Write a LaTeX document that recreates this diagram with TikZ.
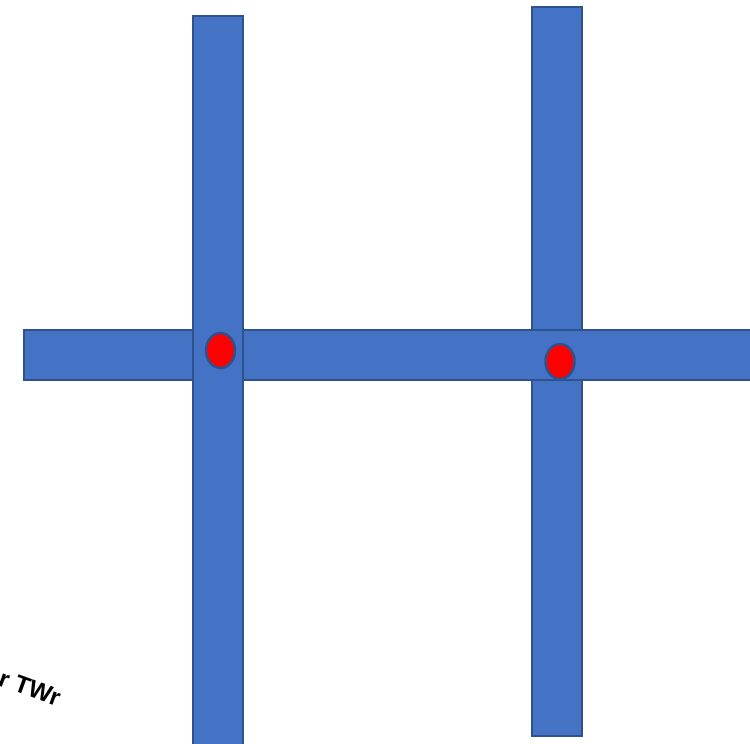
\documentclass[tikz,border=0pt]{standalone}
\usepackage{fontspec}
\setmainfont{Carlito}
\newfontfamily\lblfont{Liberation Sans}
\definecolor{barblue}{HTML}{4472C4}
\definecolor{bardark}{HTML}{2F528F}
\tikzset{
  bar/.style={fill=barblue, draw=bardark, line width=2.2pt},
  dot/.style={ellipse, fill=red, draw=bardark, line width=2.5pt, minimum width=29pt, minimum height=35pt, inner sep=0pt},
}
\usetikzlibrary{shapes.geometric}
\begin{document}
\begin{tikzpicture}[x=1pt,y=-1pt]
\useasboundingbox (0,0) rectangle (750,744);
\clip (0,0) rectangle (750,744);
\draw[bar] (532,7) rectangle (582,736);
\draw[bar] (24,330) rectangle (760,380);
\draw[bar] (193,16) rectangle (243,760);
\node[dot] (d1) at (220.5,350.5) {};
\node[dot] (d2) at (560,361.5) {};
\node[anchor=base west, rotate=-20, font=\lblfont\bfseries\fontsize{24.5}{28}\selectfont, inner sep=0pt] (lbl) at (-3,685) {r TWr};
\end{tikzpicture}
\end{document}
